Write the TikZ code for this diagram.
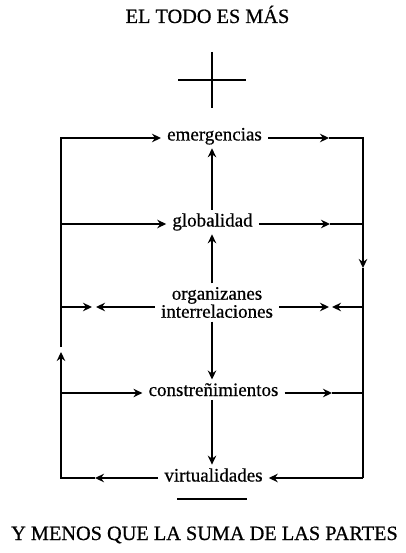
\documentclass[tikz,border=0pt]{standalone}
\usepackage{fontspec}
\setmainfont[FakeBold=0.6]{Liberation Serif}
\usetikzlibrary{arrows.meta}
\begin{document}
\begin{tikzpicture}[x=1pt,y=-1pt,
  txt/.style={font=\fontsize{19}{18}\selectfont, inner xsep=6pt, inner ysep=3.5pt},
  ttl/.style={font=\fontsize{20.3}{22}\selectfont, inner sep=0pt},
  ln/.style={line width=1.7pt},
  thinln/.style={line width=1.1pt},
  tip/.style={-{Stealth[length=9pt,width=8.5pt,inset=3pt]}},
  arr/.style={ln,tip},
  tarr/.style={thinln,tip}
]
\useasboundingbox (0,0) rectangle (406,553);

% titles
\node[ttl, anchor=base] (title) at (207.5,23) {EL TODO ES MÁS};
\node[ttl, anchor=base] (foot) at (204.5,540) {Y MENOS QUE LA SUMA DE LAS PARTES};

% plus and bar
\draw[ln] (212,52) -- (212,108);
\draw[ln] (178,80) -- (246,80);
\draw[ln] (177,499) -- (247,499);

% text nodes
\node[txt, anchor=base] (em) at (214.5,140.5) {emergencias};
\node[txt, anchor=base] (gl) at (212.5,226.5) {globalidad};
\node[txt, align=center] (org) at (217,302.5) {organizanes\\interrelaciones};
\node[txt, anchor=base] (co) at (213.5,396) {constreñimientos};
\node[txt, anchor=base] (vi) at (213.5,481.5) {virtualidades};

% coordinates
\coordinate (cx) at (212,0);
\coordinate (Lupper) at (61,347);
\coordinate (Lup) at (61,352);
\coordinate (Lem) at (61,138);
\coordinate (Rem) at (363,138);
\coordinate (Mem) at (329,138);
\coordinate (Rdn) at (363,268);
\coordinate (Lgl) at (61,224);
\coordinate (Rgl) at (363,224);
\coordinate (Mgl) at (330,224);
\coordinate (Lor) at (61,307);
\coordinate (Ror) at (363,307);
\coordinate (Lort) at (92,307);
\coordinate (Lorl) at (96,307);
\coordinate (Rorl) at (329,307);
\coordinate (Rorr) at (332,307);
\coordinate (Lco) at (61,393);
\coordinate (Rco) at (363,393);
\coordinate (Mco) at (332,393);
\coordinate (Lvi) at (61,478);
\coordinate (Rvi) at (363,478);
\coordinate (Mvi) at (95,478);

% central vertical arrows
\draw[tarr] (cx |- gl.north) -- (cx |- em.south);
\draw[arr] (cx |- org.north) -- (cx |- gl.south);
\draw[arr] (cx |- org.south) -- (cx |- co.north);
\draw[arr] (cx |- co.south) -- (cx |- vi.north);

% top row
\draw[arr] (Lupper) -- (Lem) -- (em.west |- Lem);
\draw[arr] (em.east |- Rem) -- (Mem);
\draw[arr] (Mem) -- (Rem) -- (Rdn);
\draw[ln] (Rdn) -- (Rvi);

% globalidad row
\draw[arr] (Lgl) -- (gl.west |- Lgl);
\draw[arr] (gl.east |- Rgl) -- (Mgl);
\draw[ln] (Mgl) -- (Rgl);

% organizanes row
\draw[arr] (Lor) -- (Lort);
\draw[arr] (org.west |- Lor) -- (Lorl);
\draw[arr] (org.east |- Ror) -- (Rorl);
\draw[arr] (Ror) -- (Rorr);

% constrenimientos row
\draw[arr] (Lco) -- (co.west |- Lco);
\draw[arr] (co.east |- Rco) -- (Mco);
\draw[ln] (Mco) -- (Rco);

% virtualidades row
\draw[arr] (Rvi) -- (vi.east |- Rvi);
\draw[arr] (vi.west |- Lvi) -- (Mvi);
\draw[tarr] (Mvi) -- (Lvi) -- (Lup);
\end{tikzpicture}
\end{document}
